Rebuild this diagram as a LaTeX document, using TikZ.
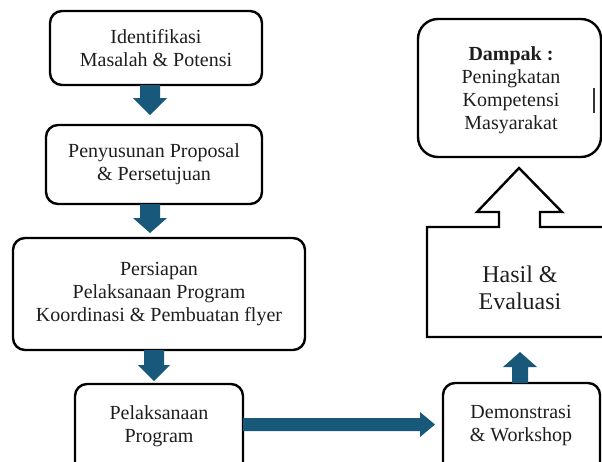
\documentclass[tikz,border=0pt]{standalone}
\usepackage{fontspec}
\setmainfont{Liberation Serif}
\definecolor{arrowblue}{RGB}{24,88,122}
\definecolor{txt}{RGB}{30,30,30}
\begin{document}
\begin{tikzpicture}[x=1pt,y=-1pt,
  box/.style={draw=black,line width=2.4pt,rounded corners=12pt,inner sep=0pt,outer sep=0pt,align=center,text=txt,font=\fontsize{20}{23}\selectfont},
  plain/.style={inner sep=0pt,outer sep=0pt,align=center,text=txt,font=\fontsize{20}{23}\selectfont},
  barrow/.style={fill=arrowblue,draw=none}]
\useasboundingbox (0,0) rectangle (602,461);
\clip (0,0) rectangle (602,461);
% boxes
\node[box,minimum width=212pt,minimum height=74pt] (b1) at (156,48) {Identifikasi\\Masalah \& Potensi};
\node[box,minimum width=216pt,minimum height=79pt] (b2) at (154,164.5) {Penyusunan Proposal\\\& Persetujuan};
\node[box,minimum width=292pt,minimum height=112pt] (b3) at (159,294) {Persiapan\\Pelaksanaan Program\\Koordinasi \& Pembuatan flyer};
\node[box,minimum width=168pt,minimum height=92pt] (b4) at (159,430) {};
\node[plain] (t4) at (159,426) {Pelaksanaan\\Program};
\node[box,minimum width=157pt,minimum height=92pt] (b5) at (521.5,429) {};
\node[plain] (t5) at (521,425) {Demonstrasi\\\& Workshop};
\node[box,rounded corners=20pt,minimum width=183pt,minimum height=138pt] (b7) at (509.5,88) {};
\node[plain] (t7) at (511,90) {\textbf{Dampak :}\\Peningkatan\\Kompetensi\\Masyarakat};
\draw[line width=1.2pt,black!80] (594,88) -- (594,113);
% hasil box with hollow arrow
\draw[line width=2.4pt,line join=miter] (427,337) -- (427,227) -- (499,227) -- (499,212) -- (477,212) -- (519,168) -- (562,212) -- (540,212) -- (540,227) -- (620,227) -- (620,337) -- cycle;
\node[plain,font=\fontsize{24}{27}\selectfont] (b6) at (520,288) {Hasil \&\\Evaluasi};
% blue block arrows
\fill[barrow] ([xshift=-16pt]b1.south) -- ++(0,13) -- ++(-7,0) -- ++(17,17) -- ++(17,-17) -- ++(-7,0) -- ++(0,-13) -- cycle;
\fill[barrow] ([xshift=-14pt]b2.south) -- ++(0,14) -- ++(-7,0) -- ++(17,15) -- ++(17,-15) -- ++(-7,0) -- ++(0,-14) -- cycle;
\fill[barrow] ([xshift=-15pt]b3.south) -- ++(0,15) -- ++(-6,0) -- ++(16,16) -- ++(16,-16) -- ++(-6,0) -- ++(0,-15) -- cycle;
\fill[barrow] ([yshift=-34pt]b4.north east) -- ++(177,0) -- ++(0,-6) -- ++(15,12.5) -- ++(-15,12.5) -- ++(0,-6) -- ++(-177,0) -- cycle;
\fill[barrow] ([xshift=-9.5pt]b5.north) -- ++(0,-16) -- ++(-9,0) -- ++(17,-15) -- ++(17,15) -- ++(-9,0) -- ++(0,16) -- cycle;
\end{tikzpicture}
\end{document}
